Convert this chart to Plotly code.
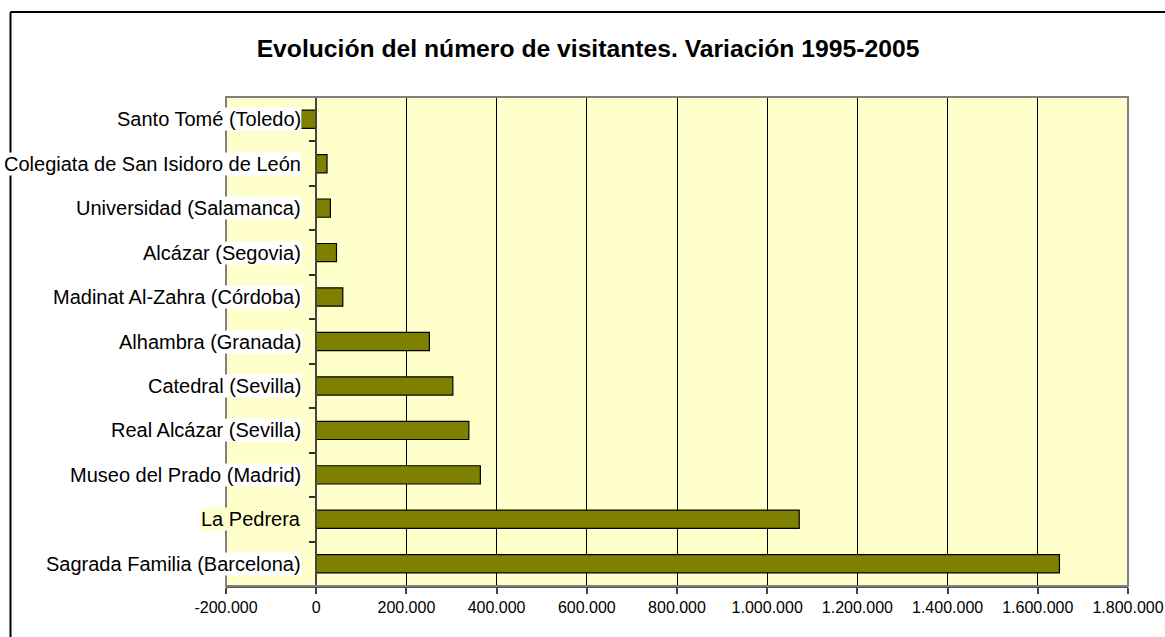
import plotly.graph_objects as go

categories = [
    "Santo Tomé (Toledo)",
    "Colegiata de San Isidoro de León",
    "Universidad (Salamanca)",
    "Alcázar (Segovia)",
    "Madinat Al-Zahra (Córdoba)",
    "Alhambra (Granada)",
    "Catedral (Sevilla)",
    "Real Alcázar (Sevilla)",
    "Museo del Prado (Madrid)",
    "La Pedrera",
    "Sagrada Familia (Barcelona)",
]
variacion = [-34000, 24000, 31500, 45000, 59000, 251000, 303000, 338500, 364000, 1071000, 1648000]

x_tickvals = [-200000, 0, 200000, 400000, 600000, 800000, 1000000, 1200000, 1400000, 1600000, 1800000]
x_ticktext = ["-200.000", "0", "200.000", "400.000", "600.000", "800.000",
              "1.000.000", "1.200.000", "1.400.000", "1.600.000", "1.800.000"]

title_text = "Evolución del número de visitantes. Variación 1995-2005"

W, H = 1165, 637
L, R, T, B = 226, 37, 97, 51
FONT = "Liberation Sans, Arial, sans-serif"

fig = go.Figure()
fig.add_trace(go.Bar(
    y=categories, x=variacion, orientation="h",
    marker=dict(color="#808000", line=dict(color="#000000", width=1.2)),
    width=0.41,
    hoverinfo="x+y",
))

# category labels with background boxes (as in the original)
for c in categories:
    bg = "#FFFFCC" if c == "La Pedrera" else "#FFFFFF"
    fig.add_annotation(
        x=0, y=c, xref="x", yref="y", text=c, showarrow=False,
        xanchor="right", yanchor="middle", xshift=-14,
        bgcolor=bg, borderpad=0,
        font=dict(family=FONT, size=20, color="#000000"),
    )

def px_x(p):
    return (p - L) / (W - L - R)

def px_y(p):
    return (H - B - p) / (H - T - B)

shapes = [
    # plot area border
    dict(type="rect", xref="paper", yref="paper", x0=0, x1=1, y0=0, y1=1,
         line=dict(color="#808080", width=2), layer="above"),
    # outer chart frame (cropped)
    dict(type="line", xref="paper", yref="paper",
         x0=px_x(10.5), x1=px_x(1200), y0=px_y(12), y1=px_y(12),
         line=dict(color="#000000", width=2)),
    dict(type="line", xref="paper", yref="paper",
         x0=px_x(10.5), x1=px_x(10.5), y0=px_y(12), y1=px_y(700),
         line=dict(color="#000000", width=2)),
]

fig.update_layout(
    width=W, height=H,
    autosize=False,
    margin=dict(l=L, r=R, t=T, b=B, pad=0, autoexpand=False),
    paper_bgcolor="#FFFFFF",
    plot_bgcolor="#FFFFCC",
    showlegend=False,
    bargap=0.59,
    font=dict(family=FONT, color="#000000"),
    title=dict(
        text="<b>" + title_text + "</b>",
        x=588 / W, xref="container", xanchor="center",
        y=1 - 48 / H, yref="container", yanchor="middle",
        font=dict(family=FONT, size=24.7, color="#000000"),
    ),
    xaxis=dict(
        range=[-200000, 1800000],
        tickvals=x_tickvals, ticktext=x_ticktext,
        showgrid=True, gridcolor="#000000", gridwidth=1,
        zeroline=False,
        showline=True, linecolor="#555555", linewidth=2,
        ticks="outside", ticklen=6, tickcolor="#444444", tickwidth=1.5,
        tickfont=dict(family=FONT, size=16, color="#000000"),
        automargin=False,
        fixedrange=True,
    ),
    yaxis=dict(
        autorange="reversed",
        categoryorder="array", categoryarray=categories,
        anchor="free", position=0.1,
        showticklabels=False,
        showgrid=False, zeroline=False,
        showline=True, linecolor="#444444", linewidth=2,
        ticks="outside", tickson="boundaries", ticklen=6,
        tickcolor="#333333", tickwidth=1.5,
        automargin=False,
        fixedrange=True,
    ),
    shapes=shapes,
)

fig.write_html(
    "out.html",
    config={"displayModeBar": False},
    post_script="document.body.style.margin='0';document.body.style.overflow='hidden';",
)
